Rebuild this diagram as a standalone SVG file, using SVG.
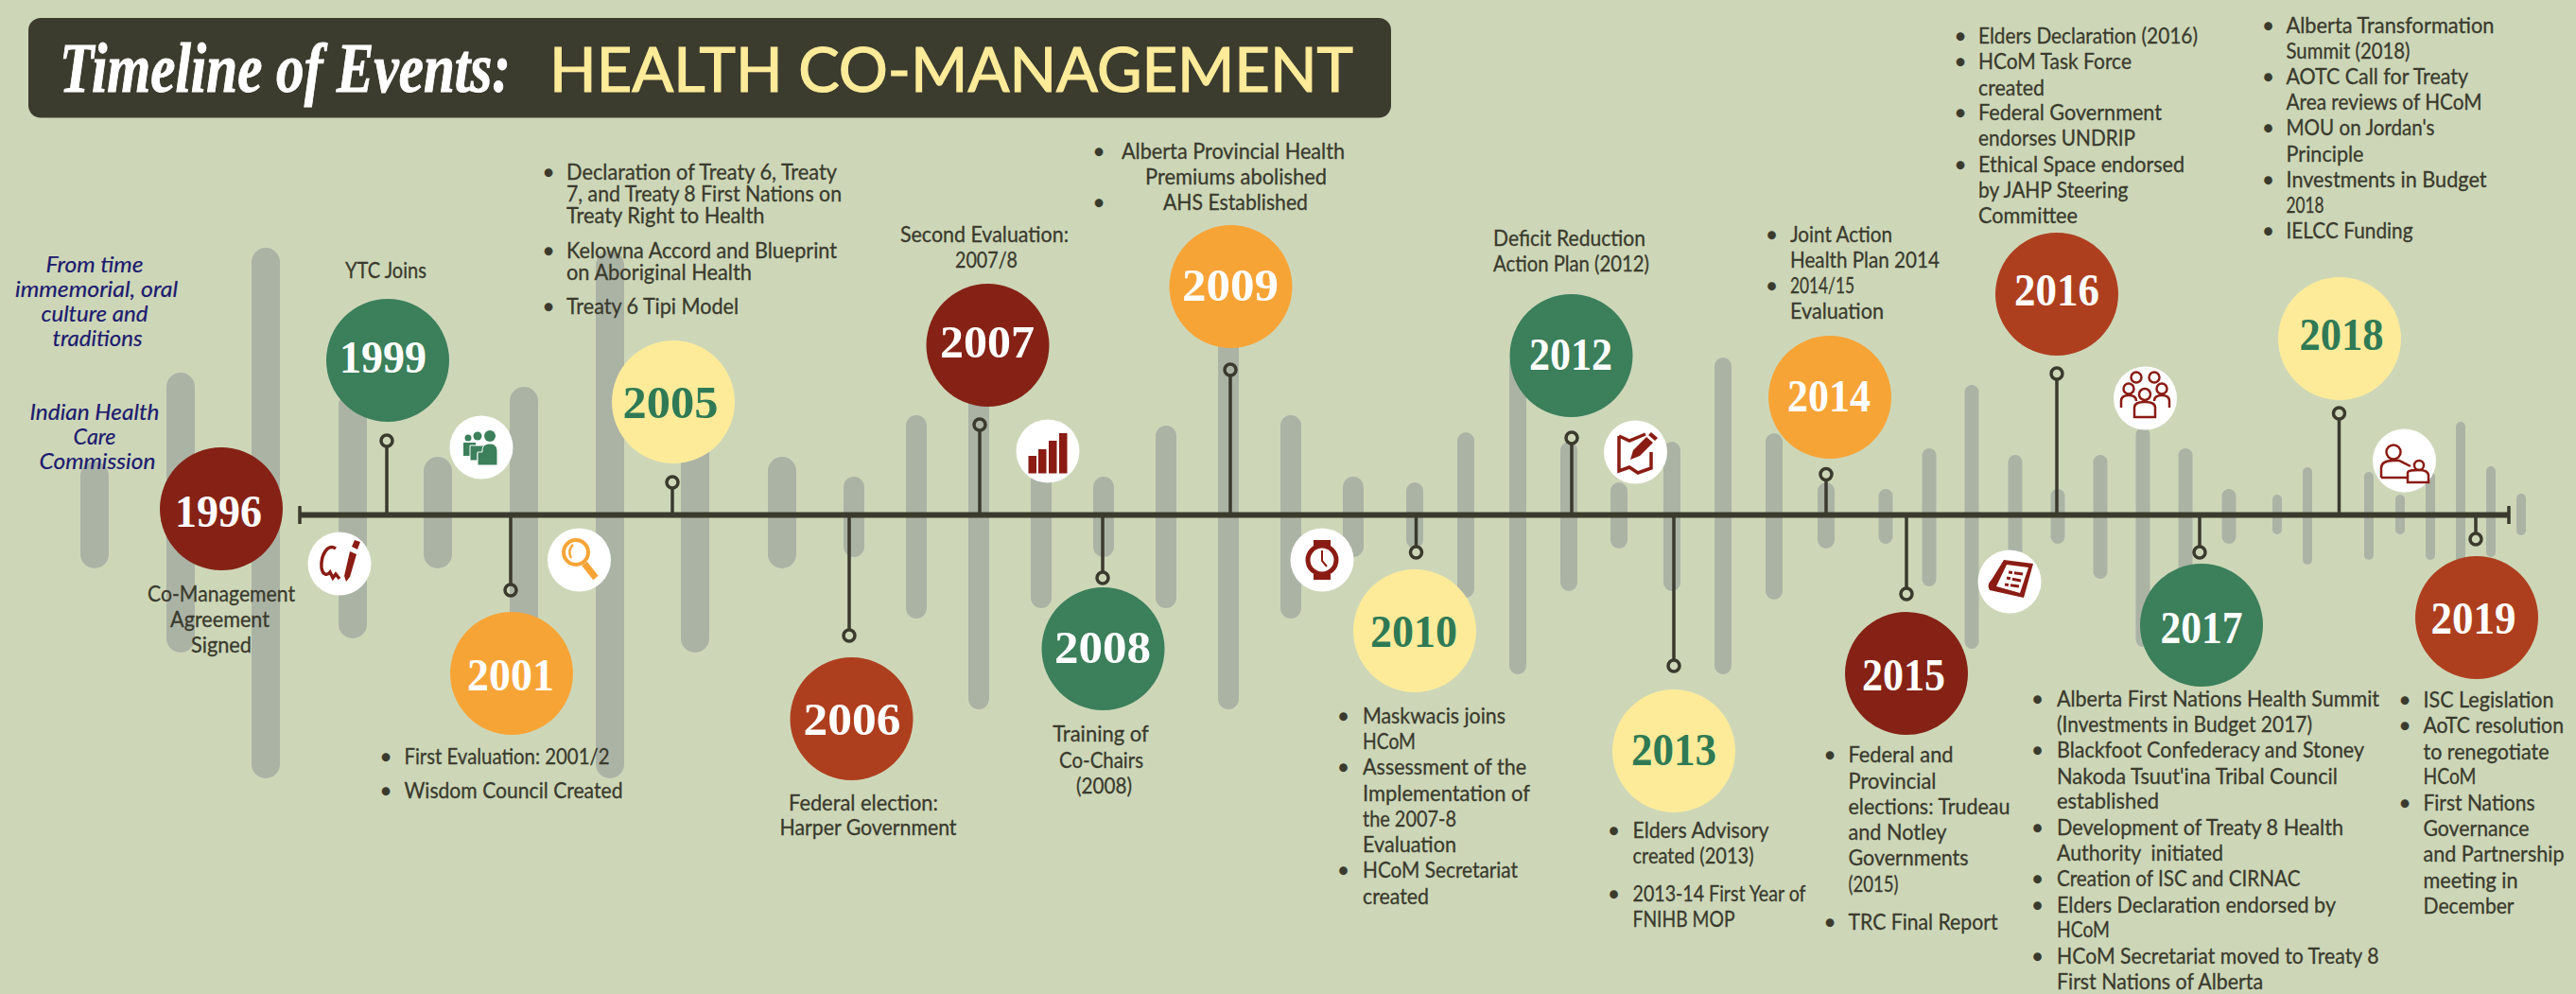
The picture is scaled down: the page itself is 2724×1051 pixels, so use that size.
<svg xmlns="http://www.w3.org/2000/svg" width="2724" height="1051" viewBox="0 0 2724 1051">
<style>
.bar{fill:#abb3a5}
.t{font-family:"Lato","Noto Sans",sans-serif;font-size:22.500px;fill:#3a3a2d;stroke:#3a3a2d;stroke-width:.3}
.m{text-anchor:middle}
.i{font-family:"Lato","Noto Sans",sans-serif;font-size:24px;font-style:italic;fill:#1c1a6e;stroke:#1c1a6e;stroke-width:.2;text-anchor:middle}
.y{font-family:"Liberation Serif",serif;font-size:49px;font-weight:700;fill:#fff;text-anchor:middle}
.yg{fill:#2f7a55}
.red{fill:#852215}.grn{fill:#3b7f5b}.org{fill:#f7a437}.yel{fill:#fdeb9a}.rst{fill:#ae3f1e}
.stem{stroke:#3a3a2d;stroke-width:3.500;fill:none}
.pin{stroke:#3a3a2d;stroke-width:3.500;fill:none}
.ic{fill:#fff}
.ds{fill:#8a1c14}
.dl{fill:none;stroke:#8a1c14;stroke-width:2.500}
</style>
<rect width="2724" height="1051" fill="#cdd7b8"/>
<g id="bars">
<rect class="bar" x="85" y="488" width="30" height="113" rx="15"/>
<rect class="bar" x="176" y="394" width="30" height="296" rx="15"/>
<rect class="bar" x="266" y="262" width="30" height="561" rx="15"/>
<rect class="bar" x="358" y="414" width="30" height="261" rx="15"/>
<rect class="bar" x="448" y="483" width="30" height="118" rx="15"/>
<rect class="bar" x="539" y="409" width="30" height="271" rx="15"/>
<rect class="bar" x="630" y="265" width="30" height="558" rx="15"/>
<rect class="bar" x="720" y="399" width="30" height="291" rx="15"/>
<rect class="bar" x="812" y="483" width="30" height="118" rx="15"/>
<rect class="bar" x="892" y="504" width="22" height="85" rx="11"/>
<rect class="bar" x="958" y="439" width="22" height="215" rx="11"/>
<rect class="bar" x="1024" y="338" width="22" height="412" rx="11"/>
<rect class="bar" x="1090" y="445" width="22" height="198" rx="11"/>
<rect class="bar" x="1156" y="504" width="22" height="85" rx="11"/>
<rect class="bar" x="1222" y="450" width="22" height="193" rx="11"/>
<rect class="bar" x="1288" y="338" width="22" height="412" rx="11"/>
<rect class="bar" x="1354" y="439" width="22" height="215" rx="11"/>
<rect class="bar" x="1420" y="504" width="22" height="85" rx="11"/>
<rect class="bar" x="1487" y="510" width="18" height="70" rx="9"/>
<rect class="bar" x="1541" y="457" width="18" height="175" rx="9"/>
<rect class="bar" x="1596" y="376" width="18" height="337" rx="9"/>
<rect class="bar" x="1650" y="467" width="18" height="158" rx="9"/>
<rect class="bar" x="1703" y="510" width="18" height="70" rx="9"/>
<rect class="bar" x="1759" y="467" width="18" height="158" rx="9"/>
<rect class="bar" x="1813" y="378" width="18" height="335" rx="9"/>
<rect class="bar" x="1867" y="458" width="18" height="176" rx="9"/>
<rect class="bar" x="1922" y="510" width="18" height="70" rx="9"/>
<rect class="bar" x="1986.500" y="517" width="15" height="58" rx="7.500"/>
<rect class="bar" x="2032.500" y="474" width="15" height="146" rx="7.500"/>
<rect class="bar" x="2077.500" y="407" width="15" height="279" rx="7.500"/>
<rect class="bar" x="2123.500" y="481" width="15" height="129" rx="7.500"/>
<rect class="bar" x="2168.500" y="517" width="15" height="58" rx="7.500"/>
<rect class="bar" x="2213.500" y="481" width="15" height="131" rx="7.500"/>
<rect class="bar" x="2258.500" y="452" width="15" height="232" rx="7.500"/>
<rect class="bar" x="2303.500" y="474" width="15" height="146" rx="7.500"/>
<rect class="bar" x="2349.500" y="517" width="15" height="58" rx="7.500"/>
<rect class="bar" x="2403" y="523" width="10" height="42" rx="5"/>
<rect class="bar" x="2435" y="494" width="10" height="103" rx="5"/>
<rect class="bar" x="2500" y="499" width="10" height="93" rx="5"/>
<rect class="bar" x="2533" y="523" width="10" height="42" rx="5"/>
<rect class="bar" x="2565" y="499" width="10" height="93" rx="5"/>
<rect class="bar" x="2597" y="446" width="10" height="198" rx="5"/>
<rect class="bar" x="2629" y="493" width="10" height="96" rx="5"/>
<rect class="bar" x="2661" y="522" width="10" height="44" rx="5"/>
</g>
<g id="connectors">
<rect x="317" y="541.500" width="2336" height="6" fill="#3a3a2d"/>
<line class="stem" x1="317" y1="535" x2="317" y2="554"/>
<line class="stem" x1="2653" y1="535" x2="2653" y2="554"/>
<path class="stem" d="M409 472V544M540 544V618M711 516V544M898 544V666M1036 455V544M1166 544V605M1301 397V544M1497.500 544V578M1662 469V544M1770 544V698M1931 507V544M2016 544V622M2175 401V544M2326 544V578M2473.500 443V544M2618 544V564"/>
<g class="pin">
<circle cx="409" cy="466" r="6"/><circle cx="540" cy="624" r="6"/><circle cx="711" cy="510" r="6"/><circle cx="898" cy="672" r="6"/><circle cx="1036" cy="449" r="6"/><circle cx="1166" cy="611" r="6"/><circle cx="1301" cy="391" r="6"/><circle cx="1497.500" cy="584" r="6"/><circle cx="1662" cy="463" r="6"/><circle cx="1770" cy="704" r="6"/><circle cx="1931" cy="501.500" r="6"/><circle cx="2016" cy="628" r="6"/><circle cx="2175" cy="395" r="6"/><circle cx="2326" cy="584" r="6"/><circle cx="2473.500" cy="437" r="6"/><circle cx="2618" cy="570" r="6"/>
</g>
</g>
<g id="title">
<rect x="30" y="19" width="1441" height="105.500" rx="13" fill="#3b3b2e"/>
<text transform="translate(63 97) scale(.85 1)" x="0" y="0" font-family="Liberation Serif, serif" font-style="italic" font-weight="700" font-size="74" fill="#fff" stroke="#fff" stroke-width="1" textLength="561" lengthAdjust="spacingAndGlyphs">Timeline of Events:</text>
<text x="581" y="97" font-family="Lato, Noto Sans, sans-serif" font-size="65" fill="#fdeb9a" stroke="#fdeb9a" stroke-width="1.200" textLength="850" lengthAdjust="spacingAndGlyphs">HEALTH CO-MANAGEMENT</text>
</g>
<g id="note-oral">
<text class="i" x="100" y="288" textLength="103" lengthAdjust="spacingAndGlyphs">From time</text>
<text class="i" x="102" y="314" textLength="172" lengthAdjust="spacingAndGlyphs">immemorial, oral</text>
<text class="i" x="100" y="340" textLength="113" lengthAdjust="spacingAndGlyphs">culture and</text>
<text class="i" x="103" y="366" textLength="95" lengthAdjust="spacingAndGlyphs">traditions</text>
</g>
<g id="note-ihcc">
<text class="i" x="100" y="443.500" textLength="137" lengthAdjust="spacingAndGlyphs">Indian Health</text>
<text class="i" x="100" y="470" textLength="45" lengthAdjust="spacingAndGlyphs">Care</text>
<text class="i" x="103" y="495.500" textLength="123" lengthAdjust="spacingAndGlyphs">Commission</text>
</g>
<g id="y1996">
<circle class="red" cx="234" cy="538" r="65"/>
<text class="y" x="231" y="557" textLength="92" lengthAdjust="spacingAndGlyphs">1996</text>
<text class="t m" x="234" y="636" textLength="156" lengthAdjust="spacingAndGlyphs">Co-Management</text>
<text class="t m" x="232.500" y="662.500" textLength="105" lengthAdjust="spacingAndGlyphs">Agreement</text>
<text class="t m" x="234" y="689.500" textLength="64" lengthAdjust="spacingAndGlyphs">Signed</text>
</g>
<g id="y1999">
<circle class="grn" cx="410" cy="381" r="65"/>
<text class="y" x="405" y="394" textLength="92" lengthAdjust="spacingAndGlyphs">1999</text>
<text class="t m" x="408" y="293.500" textLength="86" lengthAdjust="spacingAndGlyphs">YTC Joins</text>
</g>
<g id="y2001">
<circle class="org" cx="541" cy="712" r="65"/>
<text class="y" x="540" y="730" textLength="92" lengthAdjust="spacingAndGlyphs">2001</text>
<text class="t m" x="408" y="807.500">•</text>
<text class="t" x="427.500" y="807.500" textLength="217" lengthAdjust="spacingAndGlyphs">First Evaluation: 2001/2</text>
<text class="t m" x="408" y="844">•</text>
<text class="t" x="427.500" y="844" textLength="231" lengthAdjust="spacingAndGlyphs">Wisdom Council Created</text>
</g>
<g id="y2005">
<circle class="yel" cx="712" cy="425" r="65"/>
<text class="y yg" x="709" y="442" textLength="101" lengthAdjust="spacingAndGlyphs">2005</text>
<text class="t m" x="580" y="190">•</text>
<text class="t" x="599" y="190" textLength="286" lengthAdjust="spacingAndGlyphs">Declaration of Treaty 6, Treaty</text>
<text class="t" x="599" y="213" textLength="291" lengthAdjust="spacingAndGlyphs">7, and Treaty 8 First Nations on</text>
<text class="t" x="599" y="236" textLength="209.500" lengthAdjust="spacingAndGlyphs">Treaty Right to Health</text>
<text class="t m" x="580" y="273">•</text>
<text class="t" x="599" y="273" textLength="286" lengthAdjust="spacingAndGlyphs">Kelowna Accord and Blueprint</text>
<text class="t" x="599" y="296" textLength="196" lengthAdjust="spacingAndGlyphs">on Aboriginal Health</text>
<text class="t m" x="580" y="332">•</text>
<text class="t" x="599" y="332" textLength="182" lengthAdjust="spacingAndGlyphs">Treaty 6 Tipi Model</text>
</g>
<g id="y2006">
<circle class="rst" cx="900.500" cy="760" r="65"/>
<text class="y" x="901" y="777" textLength="103" lengthAdjust="spacingAndGlyphs">2006</text>
<text class="t m" x="913" y="856.500" textLength="158" lengthAdjust="spacingAndGlyphs">Federal election:</text>
<text class="t m" x="918" y="883" textLength="187" lengthAdjust="spacingAndGlyphs">Harper Government</text>
</g>
<g id="y2007">
<circle class="red" cx="1044.500" cy="365" r="65"/>
<text class="y" x="1044" y="378" textLength="100" lengthAdjust="spacingAndGlyphs">2007</text>
<text class="t m" x="1041" y="256" textLength="178" lengthAdjust="spacingAndGlyphs">Second Evaluation:</text>
<text class="t m" x="1043" y="283" textLength="66" lengthAdjust="spacingAndGlyphs">2007/8</text>
</g>
<g id="y2008">
<circle class="grn" cx="1166.500" cy="686" r="65"/>
<text class="y" x="1166" y="701" textLength="102" lengthAdjust="spacingAndGlyphs">2008</text>
<text class="t m" x="1164" y="784" textLength="101.500" lengthAdjust="spacingAndGlyphs">Training of</text>
<text class="t m" x="1164.500" y="812" textLength="89" lengthAdjust="spacingAndGlyphs">Co-Chairs</text>
<text class="t m" x="1167.500" y="839" textLength="59" lengthAdjust="spacingAndGlyphs">(2008)</text>
</g>
<g id="y2009">
<circle class="org" cx="1301.500" cy="303" r="65"/>
<text class="y" x="1301" y="318" textLength="102" lengthAdjust="spacingAndGlyphs">2009</text>
<text class="t m" x="1162" y="168">•</text>
<text class="t" x="1186" y="168" textLength="236" lengthAdjust="spacingAndGlyphs">Alberta Provincial Health</text>
<text class="t m" x="1307" y="195" textLength="192" lengthAdjust="spacingAndGlyphs">Premiums abolished</text>
<text class="t m" x="1162" y="222">•</text>
<text class="t m" x="1306.500" y="222" textLength="153" lengthAdjust="spacingAndGlyphs">AHS Established</text>
</g>
<g id="y2010">
<circle class="yel" cx="1496" cy="667" r="65"/>
<text class="y yg" x="1495" y="684" textLength="92" lengthAdjust="spacingAndGlyphs">2010</text>
<text class="t m" x="1420.500" y="765">•</text>
<text class="t" x="1441" y="765" textLength="151" lengthAdjust="spacingAndGlyphs">Maskwacis joins</text>
<text class="t" x="1441" y="792" textLength="56" lengthAdjust="spacingAndGlyphs">HCoM</text>
<text class="t m" x="1420.500" y="819">•</text>
<text class="t" x="1441" y="819" textLength="173" lengthAdjust="spacingAndGlyphs">Assessment of the</text>
<text class="t" x="1441" y="846.500" textLength="177" lengthAdjust="spacingAndGlyphs">Implementation of</text>
<text class="t" x="1441" y="874" textLength="99" lengthAdjust="spacingAndGlyphs">the 2007-8</text>
<text class="t" x="1441" y="901" textLength="99" lengthAdjust="spacingAndGlyphs">Evaluation</text>
<text class="t m" x="1420.500" y="928">•</text>
<text class="t" x="1441" y="928" textLength="164" lengthAdjust="spacingAndGlyphs">HCoM Secretariat</text>
<text class="t" x="1441" y="955.500" textLength="70" lengthAdjust="spacingAndGlyphs">created</text>
</g>
<g id="y2012">
<circle class="grn" cx="1661.500" cy="376" r="65"/>
<text class="y" x="1661" y="391" textLength="88" lengthAdjust="spacingAndGlyphs">2012</text>
<text class="t" x="1579" y="260" textLength="161" lengthAdjust="spacingAndGlyphs">Deficit Reduction</text>
<text class="t" x="1579" y="286.500" textLength="165" lengthAdjust="spacingAndGlyphs">Action Plan (2012)</text>
</g>
<g id="y2013">
<circle class="yel" cx="1770" cy="794" r="65"/>
<text class="y yg" x="1770" y="808.500" textLength="90" lengthAdjust="spacingAndGlyphs">2013</text>
<text class="t m" x="1706.500" y="885.500">•</text>
<text class="t" x="1726.500" y="885.500" textLength="144" lengthAdjust="spacingAndGlyphs">Elders Advisory</text>
<text class="t" x="1726.500" y="912.500" textLength="128" lengthAdjust="spacingAndGlyphs">created (2013)</text>
<text class="t m" x="1706.500" y="953">•</text>
<text class="t" x="1726.500" y="953" textLength="183" lengthAdjust="spacingAndGlyphs">2013-14 First Year of</text>
<text class="t" x="1726.500" y="980" textLength="108" lengthAdjust="spacingAndGlyphs">FNIHB MOP</text>
</g>
<g id="y2014">
<circle class="org" cx="1935" cy="420" r="65"/>
<text class="y" x="1934" y="434.500" textLength="88" lengthAdjust="spacingAndGlyphs">2014</text>
<text class="t m" x="1873.500" y="256">•</text>
<text class="t" x="1893" y="256" textLength="108" lengthAdjust="spacingAndGlyphs">Joint Action</text>
<text class="t" x="1893" y="283" textLength="158" lengthAdjust="spacingAndGlyphs">Health Plan 2014</text>
<text class="t m" x="1873.500" y="310">•</text>
<text class="t" x="1893" y="310" textLength="68" lengthAdjust="spacingAndGlyphs">2014/15</text>
<text class="t" x="1893" y="337" textLength="99" lengthAdjust="spacingAndGlyphs">Evaluation</text>
</g>
<g id="y2015">
<circle class="red" cx="2016" cy="712" r="65"/>
<text class="y" x="2013" y="730" textLength="88" lengthAdjust="spacingAndGlyphs">2015</text>
<text class="t m" x="1935" y="806">•</text>
<text class="t" x="1954.500" y="806" textLength="111" lengthAdjust="spacingAndGlyphs">Federal and</text>
<text class="t" x="1954.500" y="834" textLength="93" lengthAdjust="spacingAndGlyphs">Provincial</text>
<text class="t" x="1954.500" y="860.500" textLength="171" lengthAdjust="spacingAndGlyphs">elections: Trudeau</text>
<text class="t" x="1954.500" y="888" textLength="104" lengthAdjust="spacingAndGlyphs">and Notley</text>
<text class="t" x="1954.500" y="915" textLength="127" lengthAdjust="spacingAndGlyphs">Governments</text>
<text class="t" x="1954.500" y="943" textLength="53" lengthAdjust="spacingAndGlyphs">(2015)</text>
<text class="t m" x="1935" y="982.500">•</text>
<text class="t" x="1954.500" y="982.500" textLength="158" lengthAdjust="spacingAndGlyphs">TRC Final Report</text>
</g>
<g id="y2016">
<circle class="rst" cx="2175" cy="311" r="65"/>
<text class="y" x="2175" y="323" textLength="90" lengthAdjust="spacingAndGlyphs">2016</text>
<text class="t m" x="2073" y="46">•</text>
<text class="t" x="2092" y="46" textLength="232" lengthAdjust="spacingAndGlyphs">Elders Declaration (2016)</text>
<text class="t m" x="2073" y="73">•</text>
<text class="t" x="2092" y="73" textLength="162" lengthAdjust="spacingAndGlyphs">HCoM Task Force</text>
<text class="t" x="2092" y="100.500" textLength="70" lengthAdjust="spacingAndGlyphs">created</text>
<text class="t m" x="2073" y="127">•</text>
<text class="t" x="2092" y="127" textLength="194" lengthAdjust="spacingAndGlyphs">Federal Government</text>
<text class="t" x="2092" y="154" textLength="166" lengthAdjust="spacingAndGlyphs">endorses UNDRIP</text>
<text class="t m" x="2073" y="182">•</text>
<text class="t" x="2092" y="182" textLength="218" lengthAdjust="spacingAndGlyphs">Ethical Space endorsed</text>
<text class="t" x="2092" y="209" textLength="158.500" lengthAdjust="spacingAndGlyphs">by JAHP Steering</text>
<text class="t" x="2092" y="236" textLength="105" lengthAdjust="spacingAndGlyphs">Committee</text>
</g>
<g id="y2017">
<circle class="grn" cx="2328" cy="661" r="65"/>
<text class="y" x="2328" y="680" textLength="87" lengthAdjust="spacingAndGlyphs">2017</text>
<text class="t m" x="2154.500" y="746.500">•</text>
<text class="t" x="2175" y="746.500" textLength="341" lengthAdjust="spacingAndGlyphs">Alberta First Nations Health Summit</text>
<text class="t" x="2175" y="774" textLength="270" lengthAdjust="spacingAndGlyphs">(Investments in Budget 2017)</text>
<text class="t m" x="2154.500" y="801">•</text>
<text class="t" x="2175" y="801" textLength="325" lengthAdjust="spacingAndGlyphs">Blackfoot Confederacy and Stoney</text>
<text class="t" x="2175" y="828.500" textLength="297" lengthAdjust="spacingAndGlyphs">Nakoda Tsuut'ina Tribal Council</text>
<text class="t" x="2175" y="855" textLength="108" lengthAdjust="spacingAndGlyphs">established</text>
<text class="t m" x="2154.500" y="883">•</text>
<text class="t" x="2175" y="883" textLength="303" lengthAdjust="spacingAndGlyphs">Development of Treaty 8 Health</text>
<text class="t" x="2175" y="910" textLength="176" lengthAdjust="spacingAndGlyphs" xml:space="preserve">Authority  initiated</text>
<text class="t m" x="2154.500" y="937">•</text>
<text class="t" x="2175" y="937" textLength="257.500" lengthAdjust="spacingAndGlyphs">Creation of ISC and CIRNAC</text>
<text class="t m" x="2154.500" y="964.500">•</text>
<text class="t" x="2175" y="964.500" textLength="295" lengthAdjust="spacingAndGlyphs">Elders Declaration endorsed by</text>
<text class="t" x="2175" y="991" textLength="56" lengthAdjust="spacingAndGlyphs">HCoM</text>
<text class="t m" x="2154.500" y="1019">•</text>
<text class="t" x="2175" y="1019" textLength="340.500" lengthAdjust="spacingAndGlyphs">HCoM Secretariat moved to Treaty 8</text>
<text class="t" x="2175" y="1045.500" textLength="218" lengthAdjust="spacingAndGlyphs">First Nations of Alberta</text>
</g>
<g id="y2018">
<circle class="yel" cx="2474" cy="358" r="65"/>
<text class="y yg" x="2476" y="370" textLength="89" lengthAdjust="spacingAndGlyphs">2018</text>
<text class="t m" x="2398.500" y="34.500">•</text>
<text class="t" x="2417.500" y="34.500" textLength="220" lengthAdjust="spacingAndGlyphs">Alberta Transformation</text>
<text class="t" x="2417.500" y="61.500" textLength="131" lengthAdjust="spacingAndGlyphs">Summit (2018)</text>
<text class="t m" x="2398.500" y="89">•</text>
<text class="t" x="2417.500" y="89" textLength="192.500" lengthAdjust="spacingAndGlyphs">AOTC Call for Treaty</text>
<text class="t" x="2417.500" y="116" textLength="207" lengthAdjust="spacingAndGlyphs">Area reviews of HCoM</text>
<text class="t m" x="2398.500" y="143">•</text>
<text class="t" x="2417.500" y="143" textLength="157" lengthAdjust="spacingAndGlyphs">MOU on Jordan's</text>
<text class="t" x="2417.500" y="171" textLength="82" lengthAdjust="spacingAndGlyphs">Principle</text>
<text class="t m" x="2398.500" y="197.500">•</text>
<text class="t" x="2417.500" y="197.500" textLength="212" lengthAdjust="spacingAndGlyphs">Investments in Budget</text>
<text class="t" x="2417.500" y="224.500" textLength="40" lengthAdjust="spacingAndGlyphs">2018</text>
<text class="t m" x="2398.500" y="252">•</text>
<text class="t" x="2417.500" y="252" textLength="134" lengthAdjust="spacingAndGlyphs">IELCC Funding</text>
</g>
<g id="y2019">
<circle class="rst" cx="2619" cy="653" r="65"/>
<text class="y" x="2615.500" y="670" textLength="90" lengthAdjust="spacingAndGlyphs">2019</text>
<text class="t m" x="2543" y="748">•</text>
<text class="t" x="2562.500" y="748" textLength="138" lengthAdjust="spacingAndGlyphs">ISC Legislation</text>
<text class="t m" x="2543" y="775">•</text>
<text class="t" x="2562.500" y="775" textLength="148.500" lengthAdjust="spacingAndGlyphs">AoTC resolution</text>
<text class="t" x="2562.500" y="802.500" textLength="133" lengthAdjust="spacingAndGlyphs">to renegotiate</text>
<text class="t" x="2562.500" y="828.500" textLength="56" lengthAdjust="spacingAndGlyphs">HCoM</text>
<text class="t m" x="2543" y="857">•</text>
<text class="t" x="2562.500" y="857" textLength="118" lengthAdjust="spacingAndGlyphs">First Nations</text>
<text class="t" x="2562.500" y="884" textLength="112" lengthAdjust="spacingAndGlyphs">Governance</text>
<text class="t" x="2562.500" y="911" textLength="149" lengthAdjust="spacingAndGlyphs">and Partnership</text>
<text class="t" x="2562.500" y="938.500" textLength="100" lengthAdjust="spacingAndGlyphs">meeting in</text>
<text class="t" x="2562.500" y="966" textLength="96" lengthAdjust="spacingAndGlyphs">December</text>
</g>
<g id="icon-sign">
<circle class="ic" cx="359" cy="596" r="33.500"/>
<path d="M355 580C346 574 339 588 340 600C341 608 346 609 349 605L352 611L355 607L359 612" fill="none" stroke="#8a1c14" stroke-width="3.500"/>
<path class="ds" d="M370 583L377 586L370 610L366 615L364 609ZM372 578L375 571L381 573L378 581Z"/>
</g>
<g id="icon-group">
<circle class="ic" cx="509" cy="473" r="33.500"/>
<g fill="#3b7f5b">
<circle cx="518" cy="461" r="6"/><circle cx="505" cy="461" r="4.500"/><circle cx="495" cy="463" r="3.500"/>
<path d="M490 468H503V476H498V482H490Z"/>
<path d="M497 471H513V479H505V487H497Z" stroke="#fff" stroke-width="1"/>
<path d="M505 492V478H510V476C510 471 514 469 518 469C523 469 526 472 526 477V492Z" stroke="#fff" stroke-width="1"/>
</g>
</g>
<g id="icon-search">
<circle class="ic" cx="612.500" cy="592" r="33.500"/>
<circle cx="609" cy="584" r="13" fill="none" stroke="#f7a437" stroke-width="4"/>
<path d="M606 576C602 579 601 585 604 590" fill="none" stroke="#f7a437" stroke-width="2.500"/>
<path d="M618 596L630 611" stroke="#f7a437" stroke-width="7"/>
</g>
<g id="icon-chart">
<circle class="ic" cx="1108" cy="477" r="33.500"/>
<rect class="ds" x="1087.500" y="482" width="8.500" height="18.500"/><rect class="ds" x="1098" y="475" width="8.500" height="25.500"/><rect class="ds" x="1109" y="466" width="8.500" height="34.500"/><rect class="ds" x="1120" y="458" width="8.500" height="42.500"/>
</g>
<g id="icon-clock">
<circle class="ic" cx="1398" cy="592" r="33.500"/>
<path class="ds" d="M1389 571H1407V577H1389ZM1389 607H1407V613H1389Z"/>
<circle cx="1398" cy="592" r="15" fill="#fff" stroke="#8a1c14" stroke-width="5"/>
<path d="M1398 582V593L1403 599" fill="none" stroke="#8a1c14" stroke-width="2"/>
</g>
<g id="icon-map">
<circle class="ic" cx="1729.500" cy="478" r="33.500"/>
<path d="M1712 461L1723 466L1740 459M1712 461V498L1723 494L1732 500L1746 495V478" fill="none" stroke="#8a1c14" stroke-width="3.500"/>
<path class="ds" d="M1724 486L1727 476L1741 462L1748 468L1734 482ZM1743 460L1746 457L1753 463L1750 466Z"/>
</g>
<g id="icon-list">
<circle class="ic" cx="2125" cy="615" r="33.500"/>
<path d="M2119 592L2150 596L2140 632L2104 624C2102 620 2102 617 2106 613Z" fill="#8a1c14"/>
<path d="M2122 597L2145 600L2136 627L2111 620Z" fill="#fff"/>
<path d="M2124 605L2139 607M2122 611L2137 614M2120 618L2135 620" stroke="#8a1c14" stroke-width="3" stroke-dasharray="4 2 10 0" fill="none"/>
</g>
<g id="icon-people">
<circle class="ic" cx="2268.500" cy="421" r="33.500"/>
<g class="dl">
<circle cx="2259" cy="399" r="5.500"/><circle cx="2278" cy="399" r="5.500"/><circle cx="2251" cy="411" r="5.500"/><circle cx="2286" cy="411" r="5.500"/><circle cx="2268" cy="417" r="6"/>
<path d="M2243 431V424C2243 419 2247 418 2251 418C2255 418 2259 419 2259 424"/>
<path d="M2294 431V424C2294 419 2290 418 2286 418C2282 418 2278 419 2278 424"/>
<path d="M2257 441V431C2257 426 2262 425 2268 425C2274 425 2279 426 2279 431V441Z"/>
</g>
</g>
<g id="icon-teach">
<circle class="ic" cx="2542.500" cy="487" r="33.500"/>
<g class="dl">
<circle cx="2531" cy="478" r="7.500"/><circle cx="2558" cy="492" r="5"/>
<path d="M2518 505V495C2518 489 2524 487 2531 487H2537L2549 493"/>
<path d="M2518 505H2547M2546 510V500C2546 497 2552 497 2558 497C2564 497 2568 498 2568 503V510H2546Z"/>
</g>
</g>
</svg>
